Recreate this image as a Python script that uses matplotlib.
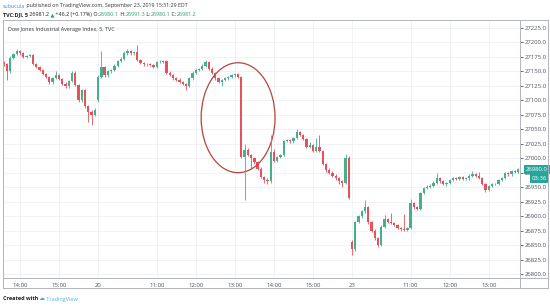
import numpy as np
import matplotlib.pyplot as plt
from matplotlib.patches import Ellipse
from matplotlib.lines import Line2D
import matplotlib.transforms as mtransforms

plt.rcParams['font.family'] = ['Open Sans', 'DejaVu Sans']

# DJI 5 minute candles: Sep 19 13:35 -> Sep 20 -> Sep 23
open_19 = [27166, 27162, 27150, 27174, 27180, 27185, 27181, 27175, 27177, 27178,
           27163, 27158, 27153, 27146, 27140, 27131, 27139, 27143, 27137, 27129,
           27124, 27134, 27148, 27127, 27100, 27118, 27090, 27080, 27075]
high_19 = [27168, 27164, 27176, 27182, 27188, 27187, 27183, 27179, 27180, 27180,
           27165, 27160, 27155, 27148, 27142, 27140, 27150, 27145, 27139, 27131,
           27136, 27150, 27150, 27129, 27120, 27120, 27092, 27083, 27086]
low_19 = [27160, 27136, 27148, 27172, 27178, 27179, 27173, 27173, 27175, 27161,
          27156, 27151, 27144, 27138, 27128, 27129, 27137, 27135, 27127, 27121,
          27122, 27132, 27125, 27097, 27098, 27087, 27063, 27058, 27073]
close_19 = [27162, 27150, 27174, 27180, 27185, 27181, 27175, 27177, 27178, 27163,
            27158, 27153, 27146, 27140, 27131, 27139, 27143, 27137, 27129, 27124,
            27134, 27148, 27127, 27100, 27118, 27090, 27080, 27075, 27083]

open_20 = [27100, 27140, 27157, 27143, 27150, 27153, 27160, 27168, 27172, 27182,
           27185, 27181, 27184, 27170, 27165, 27162, 27163, 27161, 27158, 27166,
           27167, 27168, 27148, 27144, 27138, 27136, 27132, 27128, 27125, 27138,
           27148, 27152, 27154, 27160, 27166, 27155, 27147, 27138, 27132, 27135,
           27138, 27140, 27143, 27145, 27140, 27002, 27015, 27005, 27000, 26993,
           26982, 26968, 26962, 26960, 27010, 26996, 27002, 27006, 27030, 27031,
           27029, 27035, 27045, 27040, 27033, 27020, 27023, 27013, 27020, 27013,
           26990, 26980, 26975, 26970, 26965, 26960, 26958, 27000]
high_20 = [27143, 27185, 27159, 27152, 27155, 27162, 27170, 27175, 27185, 27188,
           27187, 27186, 27196, 27172, 27167, 27165, 27165, 27163, 27168, 27169,
           27170, 27170, 27150, 27146, 27140, 27138, 27134, 27130, 27140, 27150,
           27154, 27156, 27162, 27170, 27168, 27157, 27149, 27140, 27137, 27140,
           27142, 27145, 27147, 27147, 27142, 27024, 27018, 27008, 27002, 26995,
           26984, 26970, 26966, 27040, 27016, 27004, 27008, 27032, 27034, 27033,
           27037, 27050, 27047, 27042, 27035, 27028, 27025, 27035, 27040, 27015,
           26992, 26983, 26978, 26972, 26967, 26962, 27008, 27003]
low_20 = [27098, 27138, 27140, 27141, 27148, 27151, 27158, 27166, 27170, 27178,
          27179, 27179, 27168, 27163, 27160, 27160, 27159, 27156, 27156, 27164,
          27165, 27146, 27142, 27136, 27134, 27130, 27126, 27118, 27123, 27136,
          27146, 27150, 27152, 27158, 27153, 27145, 27136, 27130, 27125, 27133,
          27136, 27138, 27141, 27138, 27000, 26927, 27003, 26982, 26990, 26980,
          26966, 26958, 26955, 26958, 26993, 26994, 27000, 27004, 27028, 27027,
          27027, 27033, 27038, 27031, 27018, 27018, 27011, 27011, 27011, 26988,
          26977, 26972, 26968, 26963, 26956, 26950, 26956, 26930]
close_20 = [27140, 27157, 27143, 27150, 27153, 27160, 27168, 27172, 27182, 27185,
            27181, 27184, 27170, 27165, 27162, 27163, 27161, 27158, 27166, 27167,
            27168, 27148, 27144, 27138, 27136, 27132, 27128, 27125, 27138, 27148,
            27152, 27154, 27160, 27166, 27155, 27147, 27138, 27132, 27135, 27138,
            27140, 27143, 27145, 27140, 27002, 27015, 27005, 27000, 26993, 26982,
            26968, 26962, 26960, 27010, 26996, 27002, 27006, 27030, 27031, 27029,
            27035, 27045, 27040, 27033, 27020, 27023, 27013, 27020, 27013, 26990,
            26980, 26975, 26970, 26965, 26960, 26958, 27000, 26932]

open_23 = [26855, 26843, 26890, 26900, 26908, 26915, 26890, 26875, 26862, 26850,
           26882, 26895, 26890, 26888, 26885, 26880, 26877, 26876, 26880, 26922,
           26915, 26913, 26940, 26948, 26950, 26952, 26958, 26965, 26960, 26955,
           26957, 26962, 26966, 26964, 26967, 26964, 26965, 26970, 26972, 26970,
           26966, 26955, 26945, 26952, 26956, 26955, 26962, 26966, 26975, 26972,
           26978, 26977]
high_23 = [26858, 26892, 26902, 26910, 26927, 26917, 26892, 26877, 26864, 26884,
           26902, 26897, 26905, 26890, 26887, 26882, 26903, 26882, 26930, 26924,
           26917, 26942, 26950, 26953, 26955, 26960, 26975, 26967, 26962, 26959,
           26964, 26968, 26968, 26970, 26969, 26967, 26972, 26978, 26974, 26977,
           26968, 26957, 26954, 26958, 26958, 26964, 26968, 26977, 26977, 26980,
           26980, 26983]
low_23 = [26832, 26840, 26888, 26897, 26906, 26887, 26873, 26858, 26846, 26848,
          26880, 26888, 26886, 26883, 26878, 26875, 26874, 26874, 26878, 26913,
          26911, 26911, 26938, 26946, 26948, 26950, 26956, 26958, 26953, 26952,
          26955, 26960, 26962, 26962, 26962, 26962, 26963, 26968, 26968, 26964,
          26953, 26942, 26943, 26950, 26953, 26953, 26960, 26964, 26970, 26970,
          26975, 26975]
close_23 = [26843, 26890, 26900, 26908, 26915, 26890, 26875, 26862, 26850, 26882,
            26895, 26890, 26888, 26885, 26880, 26877, 26876, 26880, 26922, 26915,
            26913, 26940, 26948, 26950, 26952, 26958, 26965, 26960, 26955, 26957,
            26962, 26966, 26964, 26967, 26964, 26965, 26970, 26972, 26970, 26966,
            26955, 26945, 26952, 26956, 26955, 26962, 26966, 26975, 26972, 26978,
            26977, 26981.2]

tick_pos = [5, 17, 29, 47, 59, 71, 83, 95, 107, 125, 137, 149]
tick_lab = ['14:00', '15:00', '20', '11:00', '12:00', '13:00',
            '14:00', '15:00', '23', '11:00', '12:00', '13:00']
price_ticks = np.arange(26800, 27226, 25)

up_col = '#45b08c'
dn_col = '#e8505b'
txt_col = '#4c525e'
line_col = '#b2b5be'

o = np.array(open_19 + open_20 + open_23, dtype=float)
h = np.array(high_19 + high_20 + high_23, dtype=float)
l = np.array(low_19 + low_20 + low_23, dtype=float)
c = np.array(close_19 + close_20 + close_23, dtype=float)
x = np.arange(len(c))
cols = np.where(c >= o, up_col, dn_col)

W, H = 550, 306
def fx(px): return px / W
def fy(py): return 1 - py / H

fig = plt.figure(figsize=(5.5, 3.06), dpi=100)
ax = fig.add_axes([fx(3), fy(278), fx(517), 258 / H])

ax.vlines(x, l, h, colors=cols, lw=0.6)
body = np.maximum(np.abs(c - o), 0.9)
ax.bar(x, body, bottom=np.minimum(o, c), width=0.7, color=cols, linewidth=0)

ax.set_xlim(-0.22, 158.6)
ax.set_ylim(26793.1, 27238.8)
ax.set_xticks(tick_pos, tick_lab)
ax.set_yticks(price_ticks, [f'{p:.1f}' for p in price_ticks])
ax.yaxis.tick_right()
ax.tick_params(axis='y', length=2.2, width=0.6, color=txt_col, pad=1.2,
               labelsize=4.3, labelcolor=txt_col)
ax.tick_params(axis='x', length=0, pad=3.5, labelsize=4.3, labelcolor=txt_col)
ax.grid(True, color='#eef0f4', lw=0.6)
ax.set_axisbelow(True)
for s in ax.spines.values():
    s.set_visible(False)

# highlight circle around the drop
ax.add_patch(Ellipse((72, 27070), 22.7, 190, fill=False, ec='#b5463b', lw=0.9))

# last price tag
tr = mtransforms.blended_transform_factory(ax.transAxes, ax.transData)
ax.text(1.012, c[-1], '26980.0', transform=tr, ha='left', va='center',
        fontsize=4.3, color='white', clip_on=False,
        bbox=dict(boxstyle='square,pad=0.35', fc='#26a69a', ec='none'))
ax.annotate('03:36', xy=(1.012, c[-1]), xycoords=tr, xytext=(4, -6.5),
            textcoords='offset points', ha='left', va='center',
            fontsize=4.3, color='white', annotation_clip=False,
            bbox=dict(boxstyle='square,pad=0.35', fc='#26a69a', ec='none'))

# frame lines
def fline(x0, y0, x1, y1):
    fig.add_artist(Line2D([fx(x0), fx(x1)], [fy(y0), fy(y1)], color=line_col, lw=0.7))
fline(3, 20, 548, 20)
fline(3, 288, 548, 288)
fline(3, 20, 3, 288)
fline(548, 20, 548, 288)
fline(520, 20, 520, 288)
fline(3, 278, 548, 278)

ax.text(0.01, 0.965, 'Dow Jones Industrial Average Index, 5, TVC', transform=ax.transAxes,
        fontsize=3.9, color='#333333', ha='left', va='center')

# header rows: each coloured piece is anchored to the right edge of the previous one
def row(parts, x0, y0, size):
    s, col, w = parts[0]
    last = fig.text(fx(x0), fy(y0), s, color=col, fontsize=size, weight=w, va='bottom')
    for s, col, w in parts[1:]:
        last = fig.add_artist(
            plt.Annotation(s, xy=(1, 0), xycoords=last, va='bottom', ha='left',
                           color=col, fontsize=size, weight=w))

grn = '#2e9e6e'
dark = '#222222'
row([('subucula', '#4a90d9', 'normal'),
     (' published on TradingView.com, September 23, 2019 15:51:29 EDT', '#333333', 'normal')],
    3, 8.5, 3.8)
row([('TVC:DJI, 5', dark, 'bold'), (' 26981.2', dark, 'normal'),
     (' ▲', grn, 'normal'), (' +46.2 (+0.17%)', dark, 'normal'),
     (' O:', dark, 'normal'), ('26980.1', grn, 'normal'),
     (' H:', dark, 'normal'), ('26991.3', grn, 'normal'),
     (' L:', dark, 'normal'), ('26980.1', grn, 'normal'),
     (' C:', dark, 'normal'), ('26981.2', grn, 'normal')],
    3, 17, 3.9)

row([('Created with', dark, 'bold'), (' ☁', '#3ba7e0', 'normal'),
     (' TradingView', '#5ab4e6', 'normal')], 3, 301.5, 4.0)

fig.savefig('out.png', dpi=100)
